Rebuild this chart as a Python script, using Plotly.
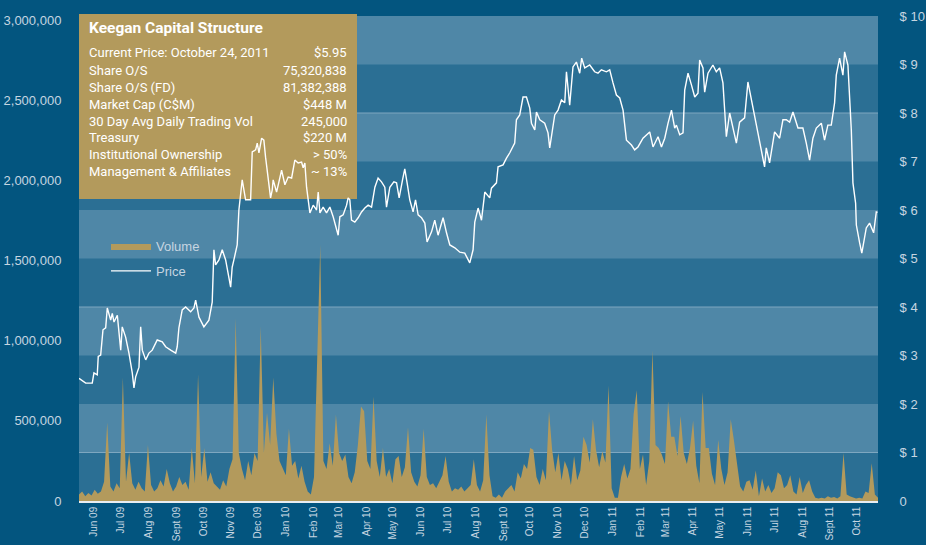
import pandas as pd
import plotly.graph_objects as go

# ---------------- data ----------------
start_date = "2009-05-15"
# price readings: day offset from start_date, closing price (C$)
price_days = [0,7.5,14.8,16.7,20.4,21.5,24.2,26.8,29.8,31.6,35.4,37.2,39.1,42.8,46.6,48.3,52.1,55.8,59.5,61.4,
63.3,67.0,68.9,70.7,74.5,78.1,81.8,87.4,93.0,96.8,102.4,108.0,109.7,111.6,115.3,119.1,124.7,128.4,130.3,134.0,
139.5,143.2,145.1,148.8,150.7,152.6,156.3,160.0,163.8,169.4,171.1,173.0,176.7,178.6,182.3,186.1,191.7,193.5,197.3,199.1,
201.0,204.0,206.5,208.4,210.2,212.1,214.0,215.8,216.9,220.7,226.3,230.0,233.7,237.5,241.1,244.8,248.6,250.4,252.3,254.2,
257.9,261.6,265.4,267.2,269.1,272.7,276.5,280.2,283.9,289.5,291.4,295.1,298.9,300.6,302.5,304.4,308.1,311.8,315.6,319.3,
323.0,326.8,330.5,334.1,337.9,341.6,343.5,347.2,351.7,354.7,357.6,361.4,363.9,366.5,369.5,373.2,375.9,378.8,382.6,386.3,
388.8,393.8,397.4,401.1,406.7,410.5,414.2,419.8,425.4,430.9,436.5,440.2,442.1,445.8,449.6,453.3,458.8,460.7,466.3,468.1,
473.7,477.5,481.2,486.7,488.6,492.3,496.0,499.8,503.5,505.4,509.1,511.0,514.7,520.2,523.9,525.8,527.7,531.4,535.1,538.9,
542.6,544.5,548.1,551.8,555.6,559.3,561.5,564.9,570.5,576.0,579.7,583.5,589.1,592.8,596.5,600.3,604.0,607.7,611.5,617.1,
620.7,624.4,630.0,633.8,637.5,641.2,646.8,650.6,654.3,658.0,661.8,665.4,667.3,671.0,674.7,676.6,680.3,684.1,687.8,691.4,
693.3,697.0,698.9,702.6,708.1,711.9,715.6,719.3,723.1,726.8,730.5,734.3,737.9,743.5,747.2,751.0,756.6,762.2,765.8,767.7,
771.4,777.0,782.6,786.3,790.1,793.8,797.5,803.1,808.6,812.4,816.1,819.8,823.6,829.2,832.8,836.5,840.3,844.0,845.9,849.6,
853.3,855.2,858.9,862.7,864.5,867.5,868.3,872.0,874.4,879.4,883.1,887.6,890.6,892.0]
price_values = [2.53,2.43,2.43,2.64,2.60,2.98,3.01,3.53,3.57,3.98,3.73,3.87,3.69,3.83,3.11,3.59,3.38,3.05,2.64,2.33,
2.56,2.76,3.59,3.11,2.91,3.05,3.11,3.32,3.28,3.18,3.11,3.05,3.18,3.57,3.94,4.00,3.90,3.98,4.14,3.79,
3.59,3.67,3.73,4.10,5.18,4.87,4.97,5.18,4.97,4.41,4.82,4.97,5.28,6.00,6.62,6.21,6.21,7.20,7.24,7.38,
7.18,7.48,7.44,7.09,6.82,6.41,6.25,6.41,6.62,6.37,6.82,6.52,6.68,6.66,7.03,6.97,6.99,6.87,6.97,6.47,
5.94,6.10,6.00,6.37,5.94,6.06,5.94,6.06,5.86,5.48,5.86,5.90,6.10,6.25,6.21,5.79,5.75,5.84,5.96,6.04,
6.10,6.06,6.47,6.66,6.58,6.47,6.06,6.47,6.58,6.56,6.25,6.62,6.85,6.56,6.21,5.96,6.21,5.90,5.84,5.73,
5.34,5.55,5.79,5.48,5.84,5.53,5.28,5.22,5.13,5.11,4.91,5.18,5.75,6.04,5.79,6.37,6.25,6.45,6.56,6.89,
6.93,7.07,7.18,7.38,7.86,7.96,8.33,8.33,8.10,7.79,7.65,8.02,7.86,7.79,7.59,7.28,7.51,7.96,8.06,8.27,
8.21,8.85,8.16,8.95,9.05,8.82,9.13,8.93,8.99,8.85,8.82,8.89,8.85,8.89,8.62,8.37,8.31,8.06,7.44,7.34,
7.24,7.30,7.48,7.55,7.61,7.30,7.51,7.30,7.48,7.79,8.06,7.69,7.75,7.55,7.59,8.47,8.82,8.58,8.33,8.41,
9.09,8.93,8.43,8.82,8.99,8.85,8.93,8.62,7.51,8.00,7.69,7.38,7.81,7.90,8.64,8.27,7.71,7.24,6.89,7.28,
6.97,7.61,7.48,7.86,7.86,7.81,8.02,7.69,7.69,7.38,7.03,7.48,7.69,7.79,7.44,7.75,7.75,8.21,8.78,9.13,
8.78,9.26,8.99,7.65,6.56,6.14,5.69,5.32,5.11,5.63,5.73,5.53,5.96,5.95]

# daily volume (thousands of shares), one reading every 3.5 days from start_date
volume_k = [40,60,30,50,35,70,45,60,120,490,
90,60,110,80,770,120,300,110,70,120,
80,60,350,100,60,80,130,90,200,110,
60,90,150,100,120,70,330,110,790,150,
330,120,180,110,90,70,130,90,200,260,
1140,300,200,130,250,160,300,250,1090,300,
550,350,770,420,250,200,160,450,220,250,
140,220,120,60,40,150,960,1600,250,200,
360,220,540,300,250,290,150,110,180,350,
590,560,250,200,650,250,150,330,150,200,
110,260,280,150,210,460,180,120,90,160,
450,150,100,110,80,120,160,280,120,60,
80,70,90,60,80,100,260,100,60,130,
540,160,30,20,40,20,60,80,100,60,
180,140,230,200,330,320,150,100,200,130,
560,320,180,300,130,250,200,100,280,130,
190,400,350,240,510,320,210,310,240,720,
80,20,20,150,230,140,200,540,690,200,
290,100,250,940,350,330,290,230,620,400,
400,280,530,300,230,330,500,220,110,680,
330,330,170,100,380,200,100,180,510,380,
250,90,60,120,130,70,190,30,140,60,
100,50,80,180,160,80,100,160,60,40,
150,50,100,130,60,20,15,20,15,30,
20,25,15,30,300,40,30,20,15,20,
15,60,50,235,40,20]

month_ticks = pd.date_range("2009-06-01", "2011-10-01", freq="MS")
month_labels = ["Jun 09","Jul 09","Aug 09","Sept 09","Oct 09","Nov 09","Dec 09",
                "Jan 10","Feb 10","Mar 10","Apr 10","May 10","Jun 10","Jul 10",
                "Aug 10","Sept 10","Oct 10","Nov 10","Dec 10",
                "Jan 11","Feb 11","Mar 11","Apr 11","May 11","Jun 11","Jul 11",
                "Aug 11","Sept 11","Oct 11"]

vol_ticks = [0, 500000, 1000000, 1500000, 2000000, 2500000, 3000000]
price_ticks = list(range(0, 11))
price_labels = ["0"] + [f"$ {i}" for i in range(1, 11)]

box_title = "Keegan Capital Structure"
box_rows = ["Current Price: October 24, 2011", "Share O/S", "Share O/S (FD)",
            "Market Cap (C$M)", "30 Day Avg Daily Trading Vol", "Treasury",
            "Institutional Ownership", "Management & Affiliates"]
box_vals = ["$5.95", "75,320,838", "81,382,388", "$448 M", "245,000",
            "$220 M", "> 50%", "~ 13%"]

# ---------------- build ----------------
t0 = pd.Timestamp(start_date)
price_dates = [t0 + pd.Timedelta(days=d) for d in price_days]
vol_dates = pd.date_range(start_date, periods=len(volume_k), freq="84h")
volumes = [v * 1000 for v in volume_k]

BG = "#03557f"
DARK = "#2b6f94"
LIGHT = "#4f87a7"
GOLD = "#b39a5c"
TXT = "#c6d5e1"
BOXFONT = "Roboto, Liberation Sans, Arial, sans-serif"
AXFONT = "Liberation Sans, Arial, sans-serif"

W, H = 926, 545
L, R, T, B = 79, 48, 16, 44
PW, PH = W - L - R, H - T - B

def px(xp):
    return (xp - L) / PW

def py(yp):
    return (H - B - yp) / PH

fig = go.Figure()
fig.add_trace(go.Scatter(x=vol_dates, y=volumes, name="Volume", mode="lines",
                         line=dict(width=0, color=GOLD), fill="tozeroy", legendgroup="v",
                         fillcolor=GOLD, yaxis="y"))
fig.add_trace(go.Scatter(x=price_dates, y=price_values, name="Price", mode="lines", legendgroup="p",
                         line=dict(width=1.4, color="white"), yaxis="y2"))

shapes = []
for lo in range(0, 10):
    col = LIGHT if lo % 2 == 1 else DARK
    shapes.append(dict(type="rect", xref="paper", yref="y2", x0=0, x1=1, y0=lo, y1=lo + 1,
                       fillcolor=col, line=dict(width=0), layer="below"))
for g in [1, 4, 8]:
    shapes.append(dict(type="line", xref="paper", yref="y2", x0=0, x1=1, y0=g, y1=g,
                       line=dict(width=1, color="#7ea7c0"), layer="below"))
shapes.append(dict(type="rect", xref="paper", yref="paper", x0=0, x1=px(357),
                   y0=py(199), y1=py(14), fillcolor=GOLD, line=dict(width=0), layer="below"))

ann = [dict(text=f"<b>{box_title}</b>", xref="paper", yref="paper", x=px(87), y=py(28),
            xanchor="left", yanchor="middle", showarrow=False,
            font=dict(family=BOXFONT, size=15.5, color="white"))]
row_y = [53, 70, 87, 104, 121, 137, 154, 171]
for r, v, yy in zip(box_rows, box_vals, row_y):
    ann.append(dict(text=r, xref="paper", yref="paper", x=px(87), y=py(yy), xanchor="left",
                    yanchor="middle", showarrow=False, font=dict(family=BOXFONT, size=13, color="white")))
    ann.append(dict(text=v, xref="paper", yref="paper", x=px(349), y=py(yy), xanchor="right",
                    yanchor="middle", showarrow=False, font=dict(family=BOXFONT, size=13, color="white")))

fig.update_layout(
    width=W, height=H, margin=dict(l=L, r=R, t=T, b=B, autoexpand=False),
    paper_bgcolor=BG, plot_bgcolor=DARK,
    shapes=shapes, annotations=ann,
    showlegend=True,
    legend=dict(x=px(106), y=py(231), xanchor="left", yanchor="top", bgcolor="rgba(0,0,0,0)",
                font=dict(family=AXFONT, size=13, color=TXT),
                itemwidth=40, tracegroupgap=5),
    xaxis=dict(type="date", range=[start_date, "2011-10-24 12:00"], tickvals=month_ticks,
               ticktext=month_labels, tickangle=-90, showgrid=False, zeroline=False,
               showline=True, linecolor="#e8eef2", linewidth=1.5, automargin=False,
               tickfont=dict(family=AXFONT, size=10, color=TXT), ticks=""),
    yaxis=dict(range=[0, 3025000], tickvals=vol_ticks, tickformat=",", showgrid=False,
               zeroline=False, tickfont=dict(family=AXFONT, size=13, color=TXT), automargin=False,
               ticks="outside", ticklen=14, tickcolor="rgba(0,0,0,0)"),
    yaxis2=dict(range=[0, 10], overlaying="y", side="right", tickvals=price_ticks,
                ticktext=price_labels, showgrid=False, zeroline=False, automargin=False,
                tickfont=dict(family=AXFONT, size=13, color=TXT),
                ticks="outside", ticklen=18, tickcolor="rgba(0,0,0,0)"),
)

fig.write_html("out.html")
